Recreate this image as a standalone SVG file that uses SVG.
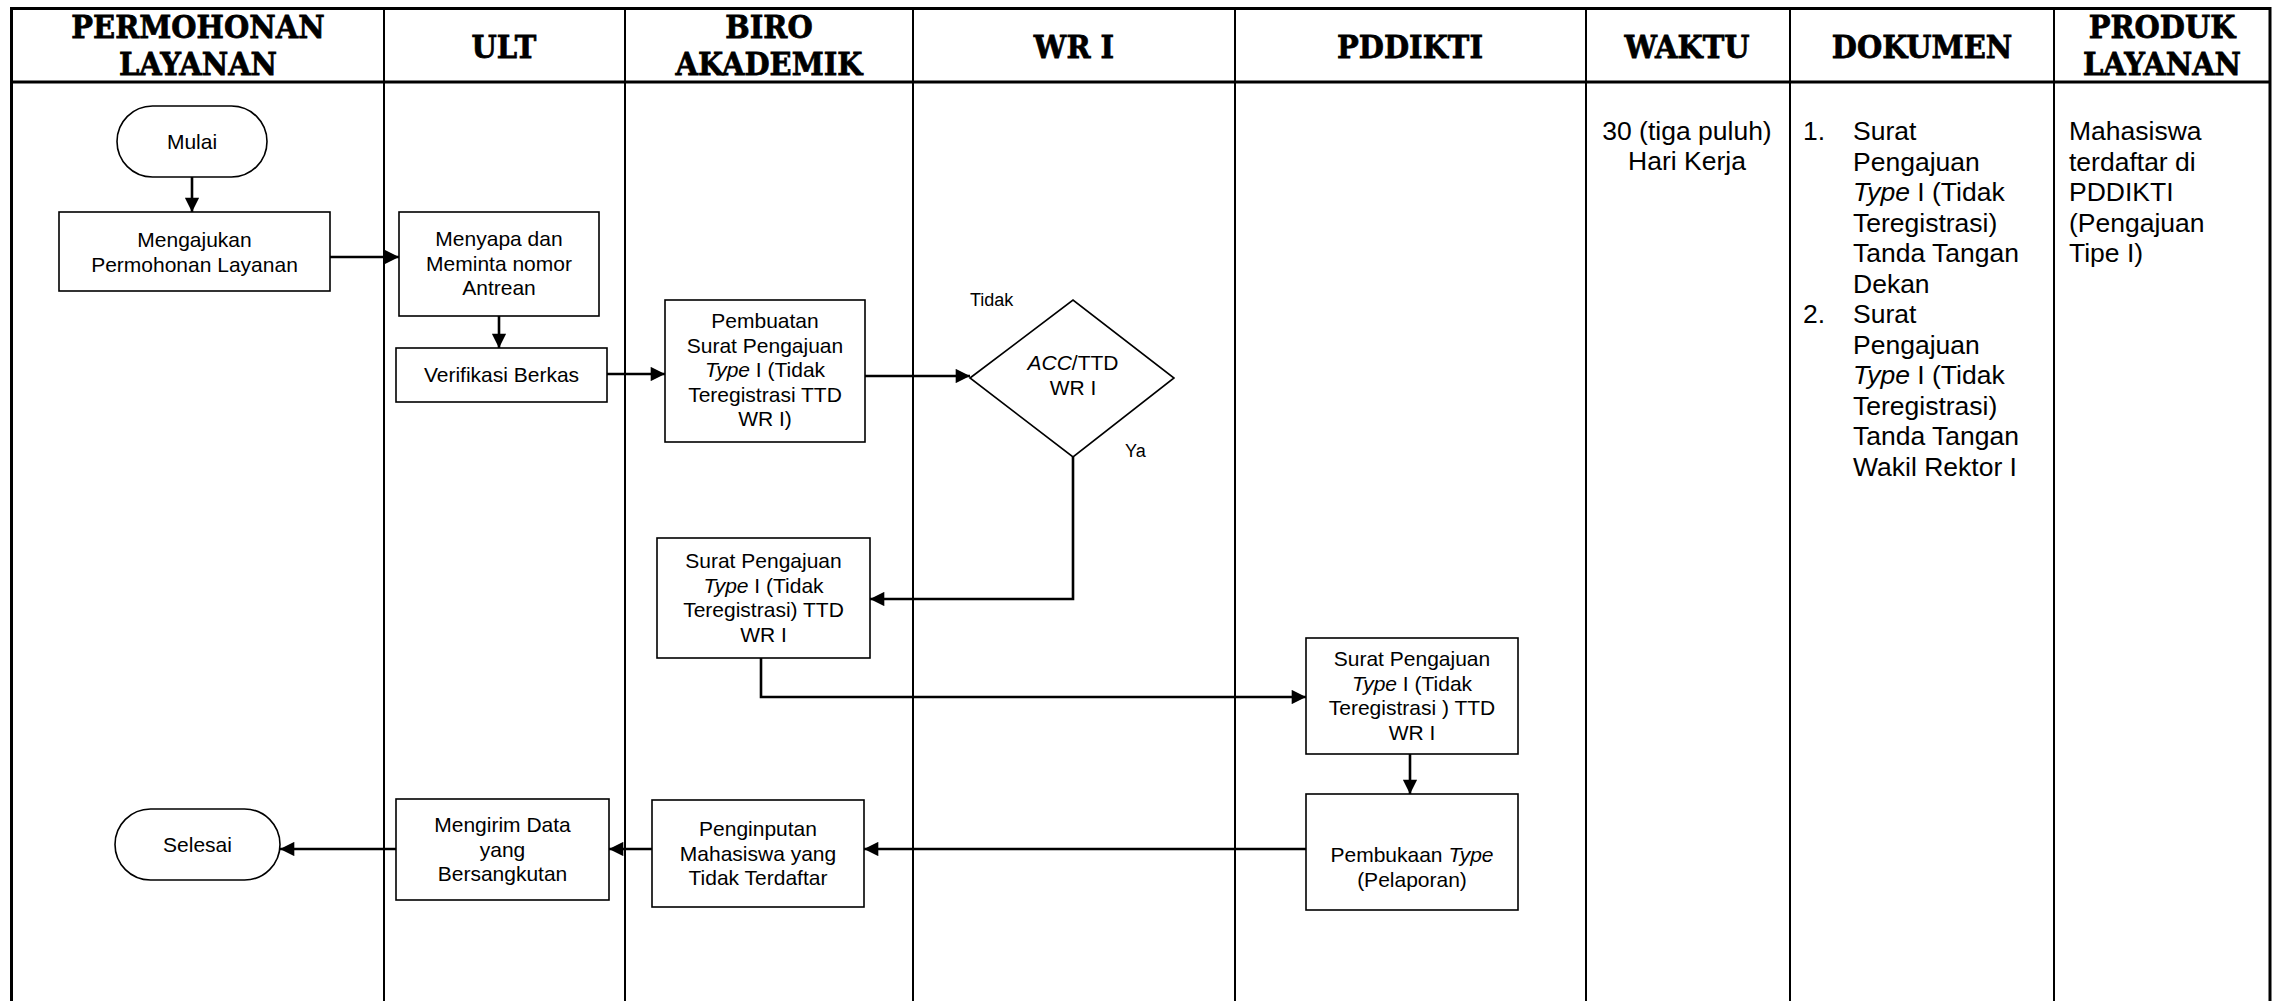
<svg xmlns="http://www.w3.org/2000/svg" width="2273" height="1001" viewBox="0 0 2273 1001">
<style>
.grid{stroke:#000;stroke-width:2;fill:none}
.border{stroke:#000;stroke-width:3;fill:none}
.hdr{font-family:"DejaVu Serif","Liberation Serif",serif;font-weight:bold;font-size:29px;text-anchor:middle;fill:#000;stroke:#000;stroke-width:0.7}
.box{fill:#fff;stroke:#000;stroke-width:1.6}
.t{font-family:"Liberation Sans",Arial,sans-serif;font-size:21px;text-anchor:middle;fill:#000}
.lbl{font-family:"Liberation Sans",Arial,sans-serif;font-size:18px;fill:#000}
.col{font-family:"Liberation Sans",Arial,sans-serif;font-size:26.5px;fill:#000}
.conn{stroke:#000;stroke-width:2.6;fill:none;marker-end:url(#ah)}
</style>
<defs>
<marker id="ah" viewBox="0 0 10 10" refX="10" refY="5" markerWidth="6" markerHeight="5.5" markerUnits="strokeWidth" orient="auto">
<path d="M0,0 L10,5 L0,10 z" fill="#000"/>
</marker>
</defs>
<rect width="2273" height="1001" fill="#fff"/>
<g id="table">
<path class="border" d="M11.5,1001 V8.5 H2270 V1001"/>
<line class="border" x1="11.5" y1="82" x2="2270" y2="82"/>
<line class="grid" x1="384" y1="8.5" x2="384" y2="1001"/>
<line class="grid" x1="625" y1="8.5" x2="625" y2="1001"/>
<line class="grid" x1="913" y1="8.5" x2="913" y2="1001"/>
<line class="grid" x1="1235" y1="8.5" x2="1235" y2="1001"/>
<line class="grid" x1="1586" y1="8.5" x2="1586" y2="1001"/>
<line class="grid" x1="1790" y1="8.5" x2="1790" y2="1001"/>
<line class="grid" x1="2054" y1="8.5" x2="2054" y2="1001"/>
<text class="hdr" transform="translate(198,38) scale(1,1.12)">PERMOHONAN</text>
<text class="hdr" transform="translate(198,75) scale(1,1.12)">LAYANAN</text>
<text class="hdr" transform="translate(504,58) scale(1,1.12)">ULT</text>
<text class="hdr" transform="translate(769,38) scale(1,1.12)">BIRO</text>
<text class="hdr" transform="translate(769,75) scale(1,1.12)">AKADEMIK</text>
<text class="hdr" transform="translate(1074,58) scale(1,1.12)">WR I</text>
<text class="hdr" transform="translate(1410,58) scale(1,1.12)">PDDIKTI</text>
<text class="hdr" transform="translate(1687,58) scale(1,1.12)">WAKTU</text>
<text class="hdr" transform="translate(1922,58) scale(1,1.12)">DOKUMEN</text>
<text class="hdr" transform="translate(2162,38) scale(1,1.12)">PRODUK</text>
<text class="hdr" transform="translate(2162,75) scale(1,1.12)">LAYANAN</text>
</g>
<g id="waktu">
<text class="col" x="1687" y="140" text-anchor="middle">30 (tiga puluh)</text>
<text class="col" x="1687" y="170" text-anchor="middle">Hari Kerja</text>
</g>
<g id="dokumen">
<text class="col" x="1803" y="140">1.</text>
<text class="col" x="1853" y="140">Surat</text>
<text class="col" x="1853" y="170.5">Pengajuan</text>
<text class="col" x="1853" y="201"><tspan font-style="italic">Type</tspan> I (Tidak</text>
<text class="col" x="1853" y="231.5">Teregistrasi)</text>
<text class="col" x="1853" y="262">Tanda Tangan</text>
<text class="col" x="1853" y="292.5">Dekan</text>
<text class="col" x="1803" y="323">2.</text>
<text class="col" x="1853" y="323">Surat</text>
<text class="col" x="1853" y="353.5">Pengajuan</text>
<text class="col" x="1853" y="384"><tspan font-style="italic">Type</tspan> I (Tidak</text>
<text class="col" x="1853" y="414.5">Teregistrasi)</text>
<text class="col" x="1853" y="445">Tanda Tangan</text>
<text class="col" x="1853" y="475.5">Wakil Rektor I</text>
</g>
<g id="produk">
<text class="col" x="2069" y="140">Mahasiswa</text>
<text class="col" x="2069" y="170.5">terdaftar di</text>
<text class="col" x="2069" y="201">PDDIKTI</text>
<text class="col" x="2069" y="231.5">(Pengajuan</text>
<text class="col" x="2069" y="262">Tipe I)</text>
</g>
<g id="connectors">
<line class="conn" x1="192" y1="177" x2="192" y2="212"/>
<line class="conn" x1="330" y1="257" x2="399" y2="257"/>
<line class="conn" x1="499" y1="316" x2="499" y2="348"/>
<line class="conn" x1="607" y1="374" x2="665" y2="374"/>
<line class="conn" x1="865" y1="376" x2="970" y2="376"/>
<path class="conn" d="M1073,457 V599 H870"/>
<path class="conn" d="M761,658 V697 H1306"/>
<line class="conn" x1="1410" y1="754" x2="1410" y2="794"/>
<line class="conn" x1="1306" y1="849" x2="864" y2="849"/>
<line class="conn" x1="652" y1="849" x2="609" y2="849"/>
<line class="conn" x1="396" y1="849" x2="280" y2="849"/>
</g>
<g id="mulai">
<rect class="box" x="117" y="106" width="150" height="71" rx="35.5"/>
<text class="t" x="192" y="149">Mulai</text>
</g>
<g id="mengajukan">
<rect class="box" x="59" y="212" width="271" height="79"/>
<text class="t" x="194.5" y="247">Mengajukan</text>
<text class="t" x="194.5" y="271.5">Permohonan Layanan</text>
</g>
<g id="menyapa">
<rect class="box" x="399" y="212" width="200" height="104"/>
<text class="t" x="499" y="246">Menyapa dan</text>
<text class="t" x="499" y="270.5">Meminta nomor</text>
<text class="t" x="499" y="295">Antrean</text>
</g>
<g id="verifikasi">
<rect class="box" x="396" y="348" width="211" height="54"/>
<text class="t" x="501.5" y="382">Verifikasi Berkas</text>
</g>
<g id="pembuatan">
<rect class="box" x="665" y="300" width="200" height="142"/>
<text class="t" x="765" y="328">Pembuatan</text>
<text class="t" x="765" y="352.5">Surat Pengajuan</text>
<text class="t" x="765" y="377"><tspan font-style="italic">Type</tspan> I (Tidak</text>
<text class="t" x="765" y="401.5">Teregistrasi TTD</text>
<text class="t" x="765" y="426">WR I)</text>
</g>
<g id="acc">
<polygon class="box" points="970,378 1073,300 1174,378 1073,457"/>
<text class="t" x="1073" y="370"><tspan font-style="italic">ACC</tspan>/TTD</text>
<text class="t" x="1073" y="394.5">WR I</text>
<text class="lbl" x="970" y="306">Tidak</text>
<text class="lbl" x="1125" y="457">Ya</text>
</g>
<g id="surat-biro">
<rect class="box" x="657" y="538" width="213" height="120"/>
<text class="t" x="763.5" y="568">Surat Pengajuan</text>
<text class="t" x="763.5" y="592.5"><tspan font-style="italic">Type</tspan> I (Tidak</text>
<text class="t" x="763.5" y="617">Teregistrasi) TTD</text>
<text class="t" x="763.5" y="641.5">WR I</text>
</g>
<g id="surat-pddikti">
<rect class="box" x="1306" y="638" width="212" height="116"/>
<text class="t" x="1412" y="666">Surat Pengajuan</text>
<text class="t" x="1412" y="690.5"><tspan font-style="italic">Type</tspan> I (Tidak</text>
<text class="t" x="1412" y="715">Teregistrasi ) TTD</text>
<text class="t" x="1412" y="739.5">WR I</text>
</g>
<g id="pembukaan">
<rect class="box" x="1306" y="794" width="212" height="116"/>
<text class="t" x="1412" y="862">Pembukaan <tspan font-style="italic">Type</tspan></text>
<text class="t" x="1412" y="886.5">(Pelaporan)</text>
</g>
<g id="penginputan">
<rect class="box" x="652" y="800" width="212" height="107"/>
<text class="t" x="758" y="836">Penginputan</text>
<text class="t" x="758" y="860.5">Mahasiswa yang</text>
<text class="t" x="758" y="885">Tidak Terdaftar</text>
</g>
<g id="mengirim">
<rect class="box" x="396" y="799" width="213" height="101"/>
<text class="t" x="502.5" y="832">Mengirim Data</text>
<text class="t" x="502.5" y="856.5">yang</text>
<text class="t" x="502.5" y="881">Bersangkutan</text>
</g>
<g id="selesai">
<rect class="box" x="115" y="809" width="165" height="71" rx="35.5"/>
<text class="t" x="197.5" y="852">Selesai</text>
</g>
</svg>
